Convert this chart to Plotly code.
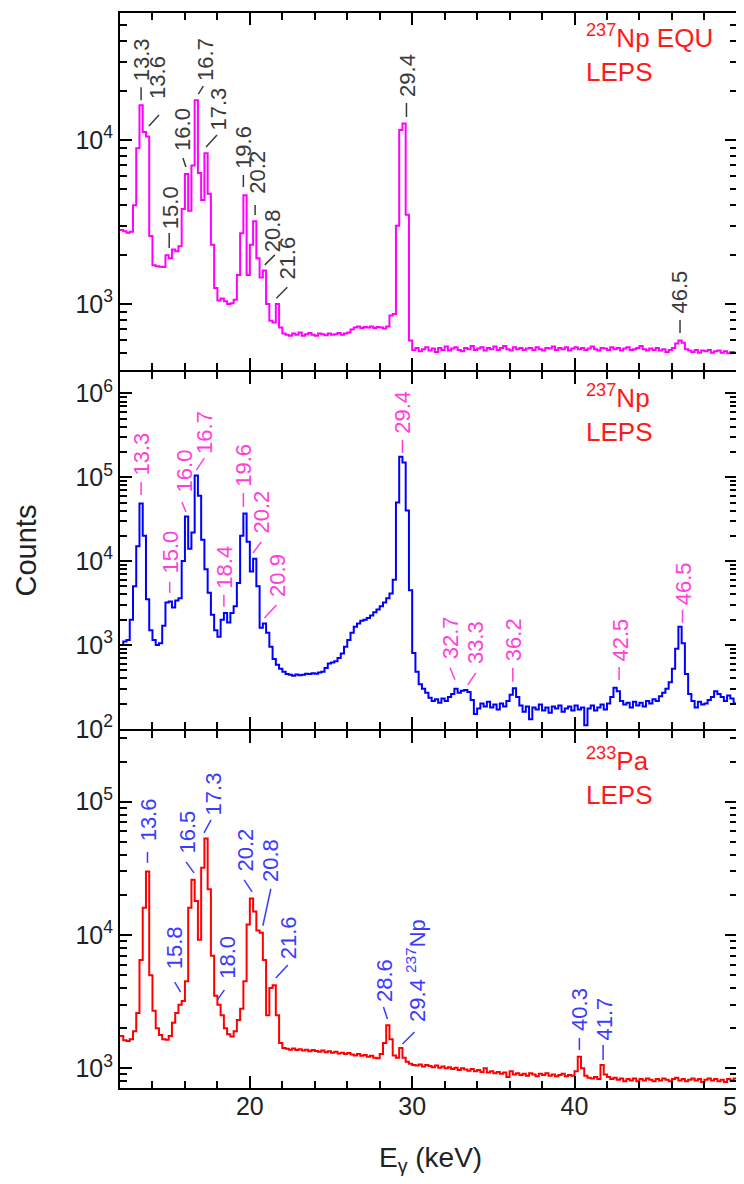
import math
import plotly.graph_objects as go
from plotly.subplots import make_subplots

# ---------------- data (bin width 0.2 keV starting at 12.0 keV) ----------------
E_START = 12.0
E_STEP = 0.2

counts_np_equ = [
    2830, 2780, 2720, 2760, 4000, 8900, 16300, 11200, 10500, 2600,   # 12.0
    1720, 1700, 1690, 1680, 1980, 1900, 2150, 2100, 2250, 3800,      # 14.0
    6200, 3700, 7000, 17500, 6300, 4300, 8300, 4700, 2300, 1250,     # 16.0
    1050, 1080, 1040, 1000, 1010, 1060, 1500, 2700, 4600, 1500,      # 18.0
    2300, 3200, 1900, 1450, 1600, 1000, 790, 770, 1000, 720,         # 20.0
    660, 650, 640, 660, 650, 670, 640, 655, 665, 650,                # 22.0
    640, 660, 655, 645, 660, 650, 655, 665, 650, 660,                # 24.0
    670, 700, 720, 730, 715, 725, 720, 730, 715, 725,                # 26.0
    720, 710, 730, 850, 870, 3000, 11500, 12600, 3500, 600,          # 28.0
    525, 540, 515, 530, 545, 520, 535, 510, 540, 525,                # 30.0
    550, 520, 535, 545, 525, 515, 540, 530, 555, 525,                # 32.0
    535, 545, 520, 540, 530, 550, 525, 540, 555, 530,                # 34.0
    520, 545, 530, 540, 525, 535, 540, 525, 545, 530,                # 36.0
    520, 540, 535, 550, 525, 540, 530, 545, 520, 535,                # 38.0
    545, 530, 540, 525, 535, 550, 530, 520, 540, 535,                # 40.0
    525, 545, 530, 540, 520, 535, 545, 525, 530, 540,                # 42.0
    555, 530, 520, 535, 525, 540, 520, 530, 510, 525,                # 44.0
    540, 575, 600, 580, 530, 520, 510, 525, 505, 520,                # 46.0
    515, 525, 505, 515, 520, 505, 515, 500, 510, 505,                # 48.0
    515,                                                             # 50.0
]

counts_np = [
    1000, 1100, 1150, 2000, 5000, 15000, 48500, 20000, 3500, 1500,   # 12.0
    1150, 1000, 1050, 1700, 3200, 3300, 2800, 3400, 3600, 10000,     # 14.0
    34000, 14000, 22000, 105000, 60000, 18000, 8000, 4200, 2300, 1500,  # 16.0
    1250, 2000, 2400, 1850, 2400, 2900, 5500, 20000, 37000, 17000,   # 18.0
    7500, 10700, 5000, 1600, 1800, 1400, 950, 680, 580, 520,         # 20.0
    480, 450, 440, 430, 445, 435, 440, 455, 450, 460,                # 22.0
    455, 470, 480, 530, 600, 620, 640, 700, 790, 950,                # 24.0
    1150, 1400, 1650, 1800, 1950, 2000, 2100, 2250, 2450, 2650,      # 26.0
    2900, 3200, 3600, 4100, 6000, 50000, 175000, 150000, 40000, 4500,  # 28.0
    800, 480, 340, 300, 270, 235, 215, 225, 205, 230,                # 30.0
    215, 240, 260, 300, 270, 285, 290, 275, 220, 150,                # 32.0
    175, 200, 185, 210, 180, 195, 170, 200, 185, 215,                # 34.0
    255, 305, 240, 190, 160, 185, 130, 180, 170, 195,                # 36.0
    165, 180, 155, 185, 175, 190, 160, 175, 185, 165,                # 38.0
    190, 170, 180, 110, 175, 190, 165, 180, 195, 170,                # 40.0
    200, 240, 310, 280, 215, 195, 205, 180, 210, 190,                # 42.0
    205, 185, 215, 200, 225, 215, 245, 270, 300, 360,                # 44.0
    520, 900, 1650, 1050, 450, 260, 215, 180, 210, 195,              # 46.0
    200, 220, 240, 280, 260, 240, 215, 250, 230, 200,                # 48.0
    215,                                                             # 50.0
]

counts_pa = [
    1750, 1620, 1600, 1650, 1900, 2600, 6500, 16000, 30000, 5000,    # 12.0
    2700, 2000, 1780, 1650, 1640, 1750, 2200, 2600, 3000, 3200,      # 14.0
    4500, 16000, 26000, 18000, 9200, 32000, 53000, 22000, 7000, 3500,  # 16.0
    3000, 2500, 2000, 1800, 1730, 1900, 2300, 2800, 4500, 12000,     # 18.0
    18800, 15000, 10800, 10400, 6500, 2500, 4000, 4200, 2500, 1550,  # 20.0
    1420, 1400, 1380, 1410, 1370, 1390, 1360, 1380, 1340, 1370,      # 22.0
    1350, 1330, 1360, 1320, 1340, 1310, 1330, 1290, 1310, 1280,      # 24.0
    1300, 1270, 1250, 1280, 1240, 1260, 1220, 1240, 1200, 1190,      # 26.0
    1280, 1550, 2100, 1650, 1250, 1200, 1420, 1200, 1120, 1080,      # 28.0
    1060, 1050, 1070, 1030, 1060, 1040, 1020, 1050, 1010, 1030,      # 30.0
    1000, 1020, 990, 1010, 970, 1000, 980, 960, 990, 950,            # 32.0
    970, 940, 1000, 930, 950, 920, 940, 910, 930, 860,               # 34.0
    950, 900, 920, 890, 910, 880, 920, 900, 870, 910,                # 36.0
    890, 920, 880, 900, 870, 890, 910, 870, 890, 880,                # 38.0
    950, 1220, 1000, 880, 850, 840, 860, 830, 1060, 900,             # 40.0
    860, 830, 850, 820, 840, 800, 830, 810, 840, 800,                # 42.0
    830, 810, 840, 820, 800, 830, 810, 840, 820, 800,                # 44.0
    830, 850, 810, 830, 800, 820, 840, 810, 830, 790,                # 46.0
    820, 840, 810, 830, 800, 820, 790, 830, 810, 840,                # 48.0
    830,                                                             # 50.0
]

# peak labels: text, energy (keV), peak counts
labels_np_equ = ["13.3", "13.6", "15.0", "16.0", "16.7", "17.3", "19.6", "20.2",
                 "20.8", "21.6", "29.4", "46.5"]
label_e_np_equ = [13.3, 13.6, 15.0, 16.0, 16.7, 17.3, 19.6, 20.2, 20.8, 21.6, 29.4, 46.5]
label_c_np_equ = [16300, 11500, 1990, 6380, 17500, 8330, 4620, 3250, 1570, 1010, 12880, 603]

labels_np = ["13.3", "15.0", "16.0", "16.7", "18.4", "19.6", "20.2", "20.9",
             "29.4", "32.7", "33.3", "36.2", "42.5", "46.5"]
label_e_np = [13.3, 15.0, 16.0, 16.7, 18.4, 19.6, 20.2, 20.9, 29.4, 32.7, 33.3, 36.2, 42.5, 46.5]
label_c_np = [50800, 3450, 33600, 106000, 2420, 37500, 10900, 1780, 175000, 317, 276, 308, 353, 1740]

labels_pa = ["13.6", "15.8", "16.5", "17.3", "18.0", "20.2", "20.8", "21.6",
             "28.6", "29.4 <sup>237</sup>Np", "40.3", "41.7"]
label_e_pa = [13.6, 15.8, 16.5, 17.3, 18.0, 20.2, 20.8, 21.6, 28.6, 29.4, 40.3, 41.7]
label_c_pa = [30800, 3250, 25900, 53500, 2990, 19300, 10400, 4220, 2110, 1420, 1215, 1060]

# ---------------- styling: pixel offsets of leader line (x0,y0,x1,y1) and text (tx,ty) ----------------
style_np_equ = [
    ((0, 5, 0, 18), (0.5, 23)), ((3, 4, 13, 15), (11.4, 30)), ((0.5, 7, 0.5, 22), (2, 25)),
    ((1, 5, -2, 14), (-2.5, 20)), ((2, 6, 7, 14), (9, 18)), ((0, 6, 11, 18), (12, 21)),
    ((0, 8, 0, 20), (0, 25)), ((2, 5, 2, 15), (4, 25)), ((2, 7, 12, 17), (10, 19)),
    ((0.5, 5, 11.5, 16), (12, 23)), ((4, 5, 4, 19), (5, 24)), ((0, 7, 0, 20), (0, 25)),
]
style_np = [
    ((0, 7, 0, 20), (0, 25)), ((1, 7, 1, 18), (1.5, 25)), ((1, 5, -3, 15), (0, 24)),
    ((0, 5, 8, 17), (8, 20)), ((0, 6, 0, 18), (0.5, 23)), ((0, 6, 0, 20), (0, 25)),
    ((0, 5, 8, 16), (8, 23)), ((0, 6, 12, 19), (13, 26)), ((0, 4, 0, 17), (0, 22)),
    ((-1, 7, -6, 19), (-6, 26)), ((2, 7, 10, 19), (10, 27)), ((0, 6, 0, 20), (1, 26)),
    ((4, 3, 4, 16), (5, 20)), ((2.5, 2, 2.5, 15), (3, 18)),
]
style_pa = [
    ((1.5, 7, 1.5, 18), (2, 28)), ((-1, 8, -7, 18), (-7, 30)), ((1, 7, -7, 18), (-6, 25)),
    ((-2, 5, 5, 18), (7, 21)), ((0, 5, 7, 15), (10, 25)), ((-1, 5, -9, 17), (-8, 24)),
    ((0, 7, 8, 44), (7, 50)), ((0, 7, 12, 20), (13, 25)), ((-2, 6, -6, 18), (-5, 22)),
    ((0, 4, 12, 16), (13, 25)), ((0, 7, 0, 19), (0, 25)), ((1, 5, 1, 20), (2, 23)),
]

FONT = "Liberation Sans, Arial, Helvetica, sans-serif"

# page geometry (the html body adds an 8 px offset)
OFF = 8
PLOT_L, PLOT_R, PLOT_T, PLOT_B = 120, 737, 13, 1088
GAP = 2  # px between panels so that the two boundary axis lines coincide
W = 744 - OFF
H = 1184 - 2 * OFF
ML = PLOT_L - OFF
MR = W - (PLOT_R - OFF)
MT = PLOT_T - OFF
MB = H - (PLOT_B - OFF)
PW = PLOT_R - PLOT_L
PH = PLOT_B - PLOT_T
PANEL_H = (PH - 2 * GAP) / 3.0

# log-axis calibration of each panel: (pixel of decade, decade, px per decade)
calib = [(140.0, 4, 164.0), (729.0, 2, 83.9), (1068.3, 3, 133.3)]


def panel_range(k):
    top = PLOT_T + k * (PANEL_H + GAP)
    bot = top + PANEL_H
    ypx, dec, ppd = calib[k]
    return [dec + (ypx - bot) / ppd, dec + (ypx - top) / ppd]


panels = [
    dict(counts=counts_np_equ, color="#ff00ff", major=[1e3, 1e4],
         title="<sup>237</sup>Np EQU<br>LEPS", title_top=5,
         labels=labels_np_equ, le=label_e_np_equ, lc=label_c_np_equ, lstyle=style_np_equ,
         lcolor="#3a3a3a"),
    dict(counts=counts_np, color="#0000ff", major=[1e2, 1e3, 1e4, 1e5, 1e6],
         title="<sup>237</sup>Np<br>LEPS", title_top=6,
         labels=labels_np, le=label_e_np, lc=label_c_np, lstyle=style_np,
         lcolor="#ff3fd9"),
    dict(counts=counts_pa, color="#ff0000", major=[1e3, 1e4, 1e5],
         title="<sup>233</sup>Pa<br>LEPS", title_top=10,
         labels=labels_pa, le=label_e_pa, lc=label_c_pa, lstyle=style_pa,
         lcolor="#3b3bff"),
]

fig = make_subplots(rows=3, cols=1, shared_xaxes=True, vertical_spacing=GAP / PH)

annotations = []
shapes = []

for i, p in enumerate(panels):
    row = i + 1
    n = len(p["counts"])
    energy = [round(E_START + E_STEP * j, 3) for j in range(n)]
    fig.add_trace(go.Scatter(x=energy, y=p["counts"], mode="lines",
                             line=dict(color=p["color"], width=2, shape="hv"),
                             showlegend=False, hoverinfo="skip"), row=row, col=1)

    yr = panel_range(i)
    if row == 2:
        yr[0] -= 0.002
    ticktext = ["10<sup>%d</sup>" % round(math.log10(v)) for v in p["major"]]
    fig.update_yaxes(type="log", range=yr, tickmode="array", tickvals=p["major"],
                     ticktext=ticktext, ticks="inside", ticklen=12, tickwidth=2,
                     tickcolor="black",
                     minor=dict(dtick="D1", ticks="inside", ticklen=7, tickwidth=2,
                                tickcolor="black", showgrid=False),
                     showline=True, linewidth=2, linecolor="black", mirror="allticks",
                     showgrid=False, zeroline=False, automargin=False,
                     tickfont=dict(family=FONT, size=25, color="#222222"),
                     row=row, col=1)
    fig.update_xaxes(range=[12, 50.01], tickmode="linear", tick0=0, dtick=10,
                     ticks="inside", ticklen=12, tickwidth=2, tickcolor="black",
                     minor=dict(tick0=0, dtick=2, ticks="inside", ticklen=7, tickwidth=2,
                                tickcolor="black", showgrid=False),
                     showline=True, linewidth=2, linecolor="black", mirror="allticks",
                     showgrid=False, zeroline=False, showticklabels=(row == 3),
                     ticklabeloverflow="allow", automargin=False, ticklabelstandoff=-5,
                     tickfont=dict(family=FONT, size=25, color="#222222"),
                     row=row, col=1)

    xref = "x" if row == 1 else "x%d" % row
    yref = "y" if row == 1 else "y%d" % row

    # panel title
    annotations.append(dict(xref=xref + " domain", yref=yref + " domain",
                            x=(584 - PLOT_L) / PW, y=1 - p["title_top"] / PANEL_H,
                            xanchor="left", yanchor="top", align="left", showarrow=False,
                            text=p["title"], font=dict(family=FONT, size=26, color="#ff1a1a")))

    # peak labels with leader lines
    for txt, e, c, ((x0, y0, x1, y1), (tx, ty)) in zip(p["labels"], p["le"], p["lc"], p["lstyle"]):
        shapes.append(dict(type="line", xref=xref, yref=yref,
                           xsizemode="pixel", ysizemode="pixel", xanchor=e, yanchor=c,
                           x0=x0, x1=x1, y0=y0, y1=y1,
                           line=dict(color=p["lcolor"], width=1.5)))
        annotations.append(dict(xref=xref, yref=yref, x=e, y=math.log10(c), xshift=tx, yshift=ty,
                                text=txt, textangle=-90, xanchor="center", yanchor="bottom",
                                showarrow=False, borderpad=0,
                                font=dict(family=FONT, size=22, color=p["lcolor"])))

# axis titles
annotations.append(dict(xref="paper", yref="paper", x=(25 - PLOT_L) / PW, y=0.5,
                        xanchor="center", yanchor="middle", textangle=-90, showarrow=False,
                        text="Counts", font=dict(family=FONT, size=29, color="#222222")))
annotations.append(dict(xref="paper", yref="paper", x=(430 - PLOT_L) / PW,
                        y=-(1159 - PLOT_B) / PH,
                        xanchor="center", yanchor="middle", showarrow=False, borderpad=0,
                        text="E<sub>γ</sub> (keV)", font=dict(family=FONT, size=28, color="#222222")))

fig.update_layout(width=W, height=H, margin=dict(l=ML, r=MR, t=MT, b=MB, autoexpand=False),
                  paper_bgcolor="white", plot_bgcolor="white",
                  font=dict(family=FONT, color="#222222"),
                  annotations=annotations, shapes=shapes, showlegend=False)

fig.write_html("out.html")
